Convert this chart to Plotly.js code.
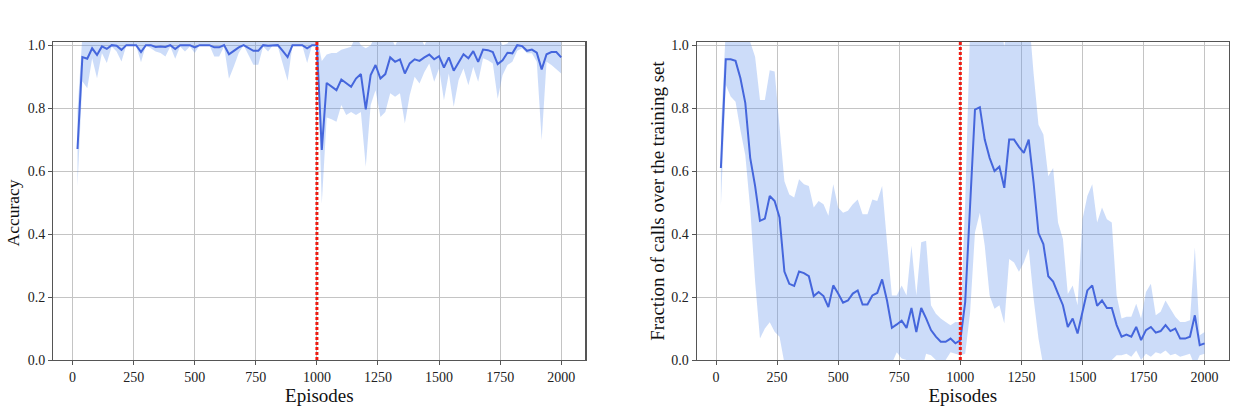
<!DOCTYPE html>
<html>
<head>
<meta charset="utf-8">
<script src="https://cdn.plot.ly/plotly-3.0.1.min.js"></script>
<style>html,body{margin:0;padding:0;background:#fff;}#chart{width:1255px;height:418px;}</style>
</head>
<body>
<div id="chart"></div>
<script>
// Episodes (x values)
const episodes = [20,40,60,80,100,120,140,160,180,200,220,240,260,280,300,320,340,360,380,400,
  420,440,460,480,500,520,540,560,580,600,620,640,660,680,700,720,740,760,780,800,
  820,840,860,880,900,920,940,960,980,1000,1020,1040,1060,1080,1100,1120,1140,1160,1180,1200,
  1220,1240,1260,1280,1300,1320,1340,1360,1380,1400,1420,1440,1460,1480,1500,1520,1540,1560,1580,1600,
  1620,1640,1660,1680,1700,1720,1740,1760,1780,1800,1820,1840,1860,1880,1900,1920,1940,1960,1980,2000];

// Left panel: Accuracy
const accMean = [0.67,0.962,0.957,0.99,0.969,0.996,0.988,1.0,0.998,0.985,1.0,1.0,1.0,0.978,1.0,1.0,0.994,0.996,0.994,1.0,
  0.988,1.0,0.999,1.0,0.993,1.0,1.0,1.0,0.993,0.993,1.0,0.971,0.982,0.993,1.0,0.99,0.982,0.982,1.0,0.998,
  1.0,1.0,0.982,0.962,1.0,1.0,1.0,0.99,1.0,1.0,0.667,0.88,0.868,0.857,0.891,0.88,0.868,0.894,0.908,0.796,
  0.905,0.937,0.894,0.908,0.961,0.947,0.955,0.91,0.942,0.955,0.95,0.961,0.97,0.955,0.965,0.929,0.961,0.919,0.944,0.971,
  0.958,0.981,0.947,0.986,0.984,0.978,0.94,0.952,0.976,0.974,1.0,0.997,0.982,0.986,0.976,0.923,0.971,0.978,0.978,0.961];
const accLower = [0.55,0.885,0.863,0.958,0.895,0.975,0.943,0.996,0.98,0.948,1.0,1.0,0.998,0.946,1.0,0.99,0.98,0.975,0.964,0.996,
  0.957,0.996,0.98,0.996,0.975,1.0,1.0,1.0,0.964,0.964,0.996,0.893,0.932,0.975,1.0,0.969,0.938,0.938,0.996,0.98,
  1.0,0.996,0.938,0.887,1.0,1.0,1.0,0.943,1.0,1.0,0.497,0.77,0.765,0.757,0.81,0.778,0.788,0.778,0.788,0.614,
  0.81,0.857,0.772,0.788,0.847,0.836,0.847,0.751,0.842,0.9,0.878,0.915,0.942,0.884,0.926,0.825,0.91,0.804,0.889,0.926,
  0.873,0.931,0.884,0.958,0.952,0.942,0.83,0.905,0.937,0.947,0.982,0.99,0.974,0.974,0.947,0.698,0.947,0.937,0.923,0.91];
const accUpper = [0.79,1.03,1.03,1.03,1.03,1.03,1.03,1.03,1.03,1.03,1.03,1.03,1.03,1.03,1.03,1.03,1.03,1.03,1.03,1.03,
  1.03,1.03,1.03,1.03,1.03,1.03,1.03,1.03,1.03,1.03,1.03,1.03,1.03,1.03,1.03,1.03,1.03,1.03,1.03,1.03,
  1.03,1.03,1.03,1.03,1.03,1.03,1.03,1.03,1.03,1.03,0.95,0.97,0.975,0.975,0.985,0.99,0.995,1.03,1.0,0.99,
  1.0,1.03,1.03,1.03,1.03,0.998,1.03,1.03,1.03,1.03,1.03,1.0,1.03,1.03,1.03,1.03,1.03,1.03,1.03,1.03,
  1.03,1.03,1.03,1.03,1.03,1.03,1.03,1.0,1.005,1.03,1.03,1.03,1.03,1.03,1.03,1.03,1.03,1.03,1.03,1.03];

// Right panel: Fraction of calls over the training set
const fracMean = [0.61,0.955,0.955,0.95,0.895,0.816,0.642,0.553,0.442,0.449,0.521,0.505,0.453,0.281,0.242,0.235,0.281,0.276,0.266,0.203,
  0.216,0.203,0.168,0.237,0.211,0.182,0.189,0.211,0.221,0.176,0.176,0.205,0.213,0.256,0.189,0.102,0.113,0.125,0.102,0.165,
  0.089,0.165,0.132,0.095,0.074,0.058,0.058,0.068,0.053,0.062,0.184,0.49,0.795,0.803,0.7,0.642,0.6,0.614,0.547,0.7,
  0.7,0.677,0.658,0.7,0.563,0.403,0.368,0.266,0.249,0.211,0.174,0.105,0.132,0.084,0.158,0.221,0.237,0.172,0.189,0.165,
  0.165,0.111,0.074,0.081,0.074,0.105,0.063,0.095,0.105,0.087,0.092,0.111,0.092,0.1,0.068,0.068,0.074,0.142,0.047,0.053];
const fracLower = [0.49,0.874,0.837,0.82,0.73,0.65,0.48,0.25,0.068,0.1,0.12,0.09,0.074,-0.01,-0.06,-0.09,-0.05,-0.06,-0.05,-0.1,
  -0.08,-0.09,-0.12,-0.08,-0.06,-0.1,-0.09,-0.07,-0.06,-0.11,-0.11,-0.1,-0.08,-0.04,-0.01,-0.01,0.025,0.005,0.0,-0.03,
  -0.02,-0.04,0.02,0.015,0.0,-0.01,0.0,0.025,0.02,0.015,0.02,0.15,0.405,0.468,0.363,0.205,0.163,0.174,0.116,0.321,
  0.31,0.28,0.31,0.353,0.195,0.068,-0.02,-0.05,-0.1,-0.03,-0.04,-0.01,0.0,-0.02,-0.05,-0.03,-0.05,-0.04,-0.03,-0.05,
  0.0,0.015,0.015,0.02,0.01,0.03,0.0,0.02,0.01,0.025,0.02,0.03,0.015,0.02,0.01,0.015,0.02,-0.02,0.015,0.02];
const fracUpper = [0.73,1.05,1.05,1.05,1.05,1.03,1.01,0.963,0.826,0.826,0.92,0.916,0.73,0.568,0.526,0.516,0.574,0.558,0.553,0.484,
  0.505,0.495,0.458,0.558,0.484,0.468,0.474,0.495,0.51,0.463,0.463,0.51,0.505,0.553,0.374,0.205,0.205,0.237,0.205,0.363,
  0.205,0.374,0.379,0.174,0.147,0.132,0.121,0.11,0.121,0.12,0.5,1.05,1.1,1.1,1.1,1.1,1.1,1.1,0.995,1.1,
  1.1,1.1,1.1,1.1,0.91,0.747,0.716,0.584,0.61,0.437,0.384,0.21,0.237,0.174,0.447,0.521,0.558,0.437,0.484,0.447,
  0.437,0.205,0.132,0.137,0.137,0.179,0.132,0.216,0.242,0.142,0.153,0.189,0.163,0.137,0.121,0.121,0.126,0.358,0.079,0.089];

// Vertical marker (distribution change)
const switchX = [1000, 1000];
const switchY = [0, 1.01];

const xTicks = [0,250,500,750,1000,1250,1500,1750,2000];
const yTicks = [0,0.2,0.4,0.6,0.8,1.0];
const yTickText = ['0.0','0.2','0.4','0.6','0.8','1.0'];

const lineColor = '#4566dc';
const bandColor = 'rgba(100,149,237,0.33)';
const FONT = "'Liberation Serif', 'Times New Roman', serif";

function panel(mean, lower, upper, xa, ya) {
  return [
    {x: episodes, y: lower, xaxis: xa, yaxis: ya, type: 'scatter', mode: 'lines',
     line: {width: 0, color: bandColor}, hoverinfo: 'skip', showlegend: false},
    {x: episodes, y: upper, xaxis: xa, yaxis: ya, type: 'scatter', mode: 'lines',
     line: {width: 0, color: bandColor}, fill: 'tonexty', fillcolor: bandColor, hoverinfo: 'skip', showlegend: false},
    {x: episodes, y: mean, xaxis: xa, yaxis: ya, type: 'scatter', mode: 'lines',
     line: {width: 2, color: lineColor}, showlegend: false},
    {x: switchX, y: switchY, xaxis: xa, yaxis: ya, type: 'scatter', mode: 'lines',
     line: {width: 3, color: '#ee1a10', dash: '3px,2px'}, showlegend: false}
  ];
}

const data = panel(accMean, accLower, accUpper, 'x', 'y')
  .concat(panel(fracMean, fracLower, fracUpper, 'x2', 'y2'));

function xAxis(domain, anchor) {
  return {domain: domain, anchor: anchor, range: [-79, 2099], tickvals: xTicks,
    showgrid: true, gridcolor: '#c4c4c4', gridwidth: 1, zeroline: false,
    showline: true, mirror: true, linecolor: '#555', linewidth: 1.2,
    ticks: 'outside', ticklen: 4, tickcolor: '#555', tickwidth: 1,
    tickfont: {family: FONT, size: 14, color: '#222'},
    title: {text: 'Episodes', font: {family: FONT, size: 19, color: '#111'}, standoff: 4}};
}
function yAxis(domain, anchor, title, standoff, tsize) {
  return {domain: domain, anchor: anchor, range: [0, 1.01], tickvals: yTicks, ticktext: yTickText,
    showgrid: true, gridcolor: '#c4c4c4', gridwidth: 1, zeroline: false,
    showline: true, mirror: true, linecolor: '#555', linewidth: 1.2,
    ticks: 'outside', ticklen: 4, tickcolor: '#555', tickwidth: 1,
    tickfont: {family: FONT, size: 14, color: '#222'},
    title: {text: title, font: {family: FONT, size: tsize, color: '#111'}, standoff: standoff}};
}

const yDom = [(418 - 360) / 418, (418 - 42) / 418];
const layout = {
  width: 1255, height: 418,
  margin: {l: 0, r: 0, t: 0, b: 0},
  paper_bgcolor: '#fff', plot_bgcolor: '#fff',
  showlegend: false,
  hovermode: false,
  xaxis: xAxis([53.3 / 1255, 585.4 / 1255], 'y'),
  yaxis: yAxis(yDom, 'x', '', 6, 17),
  xaxis2: xAxis([696.7 / 1255, 1228.8 / 1255], 'y2'),
  yaxis2: yAxis(yDom, 'x2', 'Fraction of calls over the training set', 1, 19),
  annotations: [
    {text: 'Accuracy', xref: 'paper', yref: 'paper', x: 12.5 / 1255, y: (418 - 213) / 418,
     xanchor: 'center', yanchor: 'middle', textangle: -90, showarrow: false,
     font: {family: FONT, size: 17.5, color: '#111'}}
  ]
};

Plotly.newPlot('chart', data, layout, {staticPlot: true, displayModeBar: false});
</script>
</body>
</html>
